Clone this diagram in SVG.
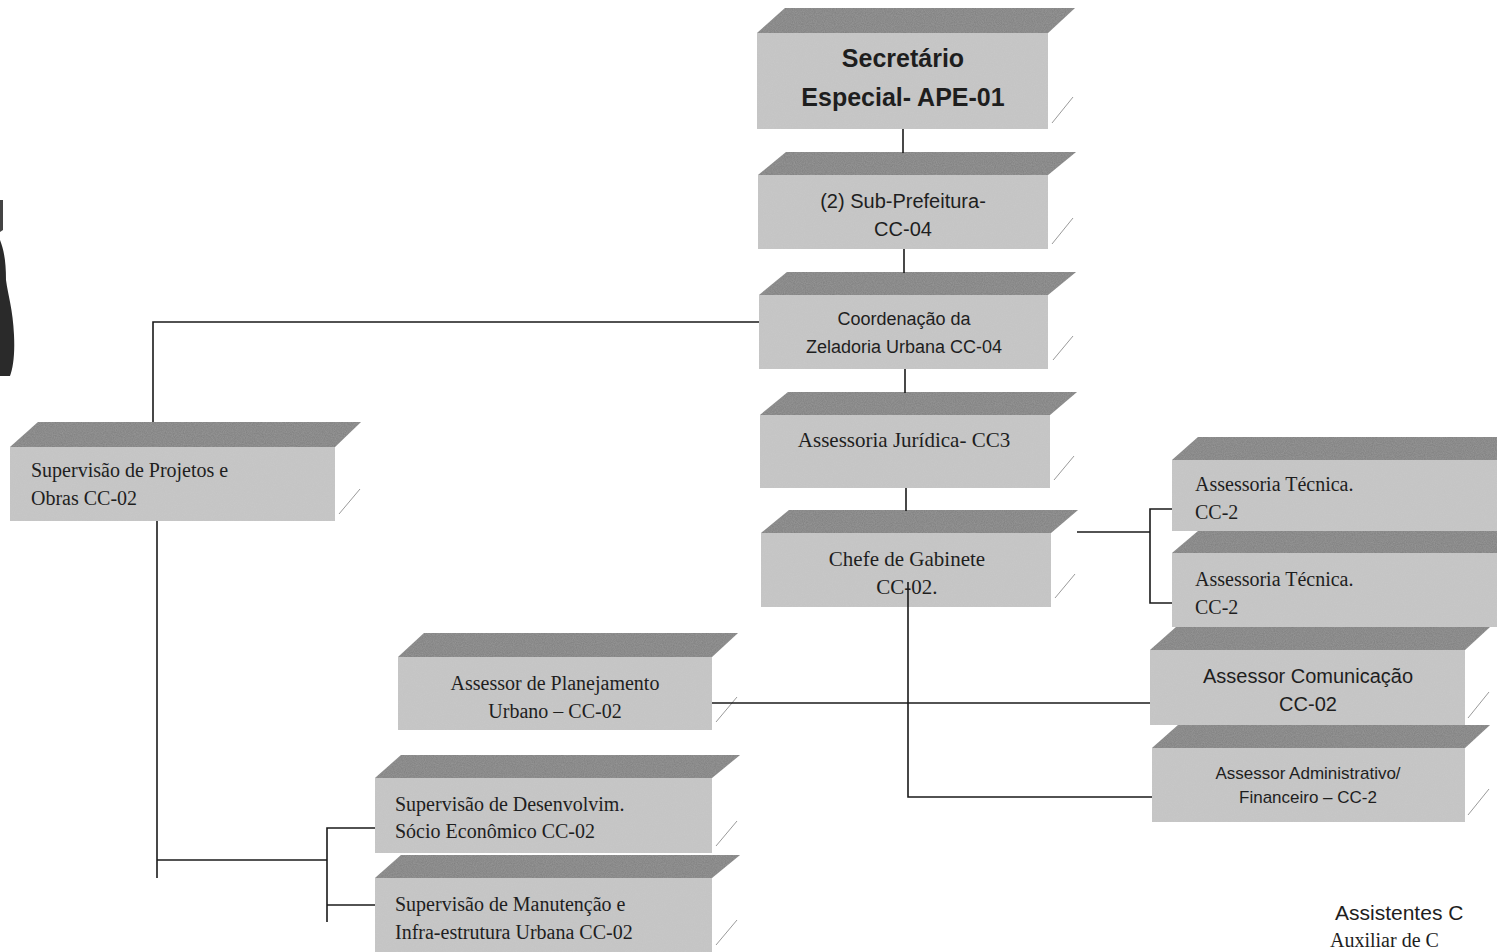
<svg xmlns="http://www.w3.org/2000/svg" width="1497" height="952" viewBox="0 0 1497 952">
<defs>
<filter id="grain" x="0" y="0" width="100%" height="100%">
<feTurbulence type="fractalNoise" baseFrequency="0.9" numOctaves="2" seed="3" result="n"/>
<feColorMatrix in="n" type="matrix" values="0 0 0 0 0.5  0 0 0 0 0.5  0 0 0 0 0.5  0 0 0 0.35 0" result="g"/>
<feComposite in="g" in2="SourceGraphic" operator="in" result="gc"/>
<feMerge><feMergeNode in="SourceGraphic"/><feMergeNode in="gc"/></feMerge>
</filter>
<style>
.front{fill:#c8c8c8;filter:url(#grain)}
.top{fill:#7f7f7f;filter:url(#grain)}
.edge{stroke:#9a9a9a;stroke-width:1;fill:none}
.conn line,.conn polyline{stroke:#1a1a1a;stroke-width:1.6;fill:none}
.sans{font-family:"Liberation Sans",Arial,sans-serif;fill:#1e1e1e}
.serif{font-family:"Liberation Serif","Times New Roman",serif;fill:#1e1e1e}
</style>
</defs>
<rect width="1497" height="952" fill="#ffffff"/>
<path d="M0,240 C4,250 6,262 6,280 C8,295 13,310 14,335 C15,355 13,368 10,376 L0,376 Z" fill="#2a2a2a"/>
<path d="M0,200 L3,200 L3,230 L0,232 Z" fill="#444"/>

<g id="n-secretario">
<polygon class="top" points="757,33 785,8 1075,8 1048,33"/>
<rect class="front" x="757" y="33" width="291" height="96"/>
<line class="edge" x1="1052" y1="123" x2="1073" y2="97"/>
<text class="sans" font-size="25" font-weight="bold" text-anchor="middle"><tspan x="903" y="67">Secretário</tspan><tspan x="903" y="106">Especial- APE-01</tspan></text>
</g>

<g id="n-subprefeitura">
<polygon class="top" points="758,175 786,152 1076,152 1048,175"/>
<rect class="front" x="758" y="175" width="290" height="74"/>
<line class="edge" x1="1052" y1="244" x2="1073" y2="218"/>
<text class="sans" font-size="20" text-anchor="middle"><tspan x="903" y="208">(2) Sub-Prefeitura-</tspan><tspan x="903" y="236">CC-04</tspan></text>
</g>

<g id="n-coordenacao">
<polygon class="top" points="759,295 787,272 1076,272 1048,295"/>
<rect class="front" x="759" y="295" width="289" height="74"/>
<line class="edge" x1="1053" y1="360" x2="1073" y2="336"/>
<text class="sans" font-size="18" text-anchor="middle"><tspan x="904" y="325">Coordenação da</tspan><tspan x="904" y="353">Zeladoria Urbana CC-04</tspan></text>
</g>

<g id="n-juridica">
<polygon class="top" points="760,415 788,392 1077,392 1050,415"/>
<rect class="front" x="760" y="415" width="290" height="73"/>
<line class="edge" x1="1054" y1="480" x2="1074" y2="456"/>
<text class="serif" font-size="21" text-anchor="middle" x="904" y="447">Assessoria Jurídica- CC3</text>
</g>

<g id="n-chefe">
<polygon class="top" points="761,533 789,510 1078,510 1051,533"/>
<rect class="front" x="761" y="533" width="290" height="74"/>
<line class="edge" x1="1055" y1="598" x2="1075" y2="574"/>
<text class="serif" font-size="21" text-anchor="middle"><tspan x="907" y="566">Chefe de Gabinete</tspan><tspan x="907" y="594">CC-02.</tspan></text>
</g>

<g id="n-supprojetos">
<polygon class="top" points="10,447 38,422 361,422 335,447"/>
<rect class="front" x="10" y="447" width="325" height="74"/>
<line class="edge" x1="339" y1="514" x2="360" y2="489"/>
<text class="serif" font-size="20"><tspan x="31" y="477">Supervisão de Projetos e</tspan><tspan x="31" y="505">Obras CC-02</tspan></text>
</g>

<g id="n-astec1">
<polygon class="top" points="1172,460 1198,437 1497,437 1497,460"/>
<rect class="front" x="1172" y="460" width="325" height="71"/>
<text class="serif" font-size="20"><tspan x="1195" y="491">Assessoria Técnica.</tspan><tspan x="1195" y="519">CC-2</tspan></text>
</g>

<g id="n-astec2">
<polygon class="top" points="1172,553 1198,531 1497,531 1497,553"/>
<rect class="front" x="1172" y="553" width="325" height="74"/>
<text class="serif" font-size="20"><tspan x="1195" y="586">Assessoria Técnica.</tspan><tspan x="1195" y="614">CC-2</tspan></text>
</g>

<g id="n-ascomunicacao">
<polygon class="top" points="1150,650 1176,627 1490,627 1465,650"/>
<rect class="front" x="1150" y="650" width="315" height="75"/>
<line class="edge" x1="1468" y1="718" x2="1489" y2="692"/>
<text class="sans" font-size="20" text-anchor="middle"><tspan x="1308" y="683">Assessor Comunicação</tspan><tspan x="1308" y="711">CC-02</tspan></text>
</g>

<g id="n-asadministrativo">
<polygon class="top" points="1152,748 1178,725 1490,725 1465,748"/>
<rect class="front" x="1152" y="748" width="313" height="74"/>
<line class="edge" x1="1468" y1="815" x2="1489" y2="789"/>
<text class="sans" font-size="17" text-anchor="middle"><tspan x="1308" y="779">Assessor Administrativo/</tspan><tspan x="1308" y="803">Financeiro – CC-2</tspan></text>
</g>

<g id="n-asplanejamento">
<polygon class="top" points="398,657 424,633 738,633 712,657"/>
<rect class="front" x="398" y="657" width="314" height="73"/>
<line class="edge" x1="716" y1="722" x2="737" y2="697"/>
<text class="serif" font-size="20" text-anchor="middle"><tspan x="555" y="690">Assessor de Planejamento</tspan><tspan x="555" y="718">Urbano – CC-02</tspan></text>
</g>

<g id="n-supdesenvolvimento">
<polygon class="top" points="375,778 401,755 740,755 712,778"/>
<rect class="front" x="375" y="778" width="337" height="75"/>
<line class="edge" x1="716" y1="846" x2="737" y2="821"/>
<text class="serif" font-size="20"><tspan x="395" y="811">Supervisão de Desenvolvim.</tspan><tspan x="395" y="838">Sócio Econômico CC-02</tspan></text>
</g>

<g id="n-supmanutencao">
<polygon class="top" points="375,878 401,855 740,855 712,878"/>
<rect class="front" x="375" y="878" width="337" height="74"/>
<line class="edge" x1="716" y1="945" x2="737" y2="920"/>
<text class="serif" font-size="20"><tspan x="395" y="911">Supervisão de Manutenção e</tspan><tspan x="395" y="939">Infra-estrutura Urbana CC-02</tspan></text>
</g>

<g id="connectors" class="conn">
<line x1="903" y1="129" x2="903" y2="153"/>
<line x1="904" y1="249" x2="904" y2="273"/>
<line x1="905" y1="369" x2="905" y2="393"/>
<line x1="906" y1="488" x2="906" y2="511"/>
<polyline points="759,322 153,322 153,422"/>
<line x1="157" y1="521" x2="157" y2="878"/>
<line x1="157" y1="860" x2="327" y2="860"/>
<polyline points="375,828 327,828 327,922"/>
<line x1="327" y1="905" x2="375" y2="905"/>
<polyline points="908,582 908,797 1152,797"/>
<line x1="712" y1="703" x2="1150" y2="703"/>
<line x1="1077" y1="532" x2="1150" y2="532"/>
<polyline points="1172,509 1150,509 1150,603 1172,603"/>
</g>

<g id="footer">
<text class="sans" font-size="21" x="1335" y="920">Assistentes C</text>
<text class="serif" font-size="20" x="1330" y="947">Auxiliar de C</text>
</g>
</svg>
